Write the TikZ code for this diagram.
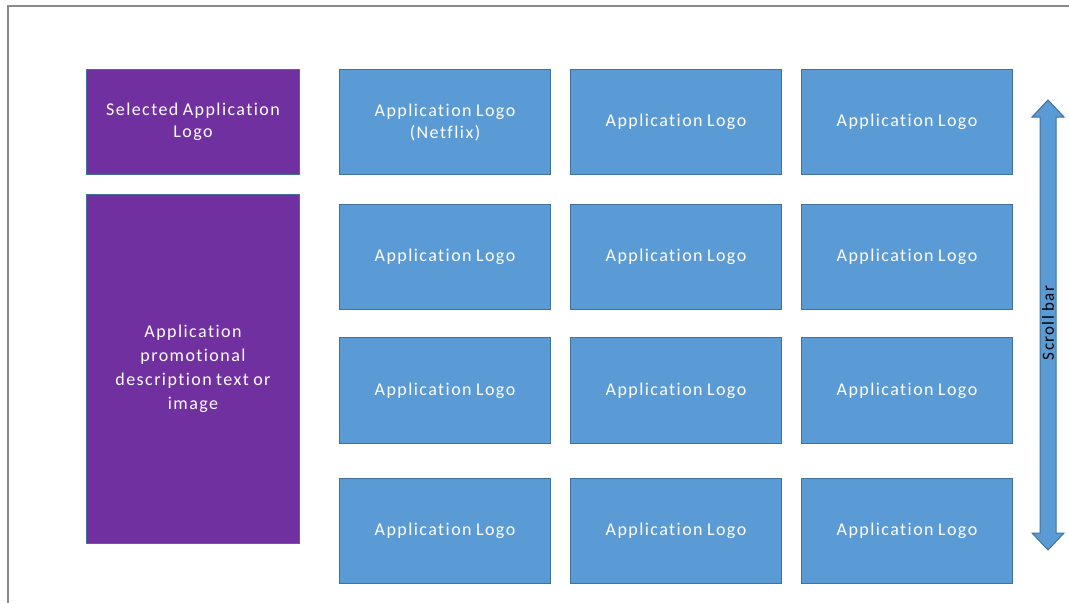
\documentclass[tikz,border=0pt]{standalone}
\usepackage{fontspec}
\setmainfont{Carlito}[LetterSpace=8,WordSpace=0.8,Ligatures=NoCommon]
\definecolor{appblue}{HTML}{5B9BD5}
\definecolor{appblueedge}{HTML}{41719C}
\definecolor{apppurple}{HTML}{7030A0}
\definecolor{framegray}{HTML}{8A8A8A}
\begin{document}
\begin{tikzpicture}[x=1pt,y=-1pt,
  tile/.style={draw=appblueedge, line width=1pt, fill=appblue, text=white, align=center,
    minimum width=211pt, minimum height=105pt, inner sep=0pt, anchor=north west,
    font=\fontsize{18}{22}\selectfont},
  sel/.style={tile, fill=apppurple},
]
\useasboundingbox (0,0) rectangle (1069,603);
\draw[framegray, line width=2pt] (1069,6) -- (8,6) -- (8,603);
% left purple boxes
\node[sel, minimum width=213pt, minimum height=105pt] (selected) at (86,69) {Selected Application\\Logo};
\node[sel, minimum width=213pt, minimum height=349pt, font=\fontsize{18}{24}\selectfont] (promo) at (86,194) {Application\\promotional\\description text or\\image};
% grid
\node[tile] (a1) at (339,69) {Application Logo\\(Netflix)};
\node[tile] (b1) at (570,69) {Application Logo};
\node[tile] (c1) at (801,69) {Application Logo};
\node[tile] (a2) at (339,204) {Application Logo};
\node[tile] (b2) at (570,204) {Application Logo};
\node[tile] (c2) at (801,204) {Application Logo};
\node[tile, minimum height=106pt] (a3) at (339,337) {Application Logo};
\node[tile, minimum height=106pt] (b3) at (570,337) {Application Logo};
\node[tile, minimum height=106pt] (c3) at (801,337) {Application Logo};
\node[tile] (a4) at (339,478) {Application Logo};
\node[tile] (b4) at (570,478) {Application Logo};
\node[tile] (c4) at (801,478) {Application Logo};
% scroll bar
\draw[draw=appblueedge, line width=1pt, fill=appblue]
  (1048,100) -- (1064,117) -- (1056,117) -- (1056,533) -- (1064,533) -- (1048,550)
  -- (1032,533) -- (1040,533) -- (1040,117) -- (1032,117) -- cycle;
\node[rotate=90, font=\fontsize{17}{20}\selectfont, inner sep=0pt] (scroll) at (1048,323) {Scroll bar};
\end{tikzpicture}
\end{document}
